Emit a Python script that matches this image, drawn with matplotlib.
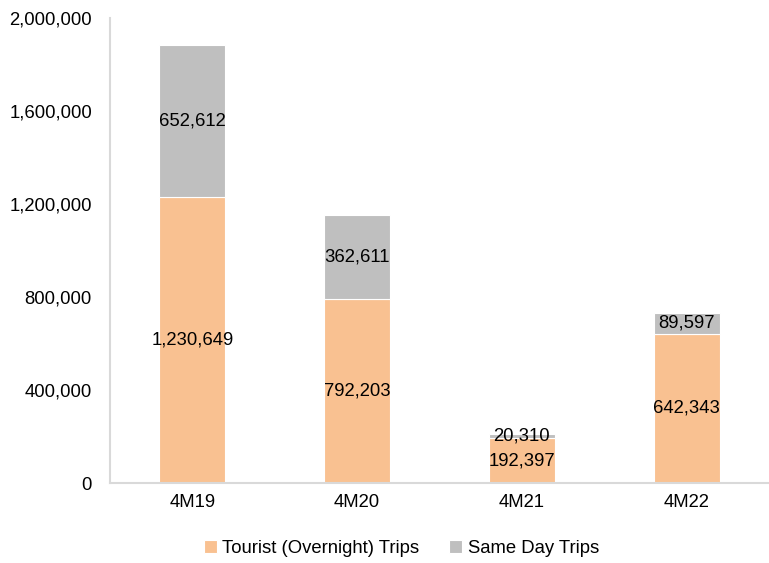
import matplotlib
matplotlib.use("Agg")
import matplotlib.pyplot as plt
from matplotlib.ticker import FuncFormatter

periods = ["4M19", "4M20", "4M21", "4M22"]
overnight = [1230649, 792203, 192397, 642343]
same_day = [652612, 362611, 20310, 89597]

ORANGE = "#f9c191"
GREY = "#bfbfbf"
SPINE = "#d9d9d9"
FS = 13.3

plt.rcParams["font.family"] = ["Liberation Sans", "DejaVu Sans"]

fig = plt.figure(figsize=(7.69, 5.63), dpi=100)
ax = fig.add_axes([0.143, 0.142, 0.857, 0.826])

x = range(len(periods))
b1 = ax.bar(x, overnight, width=0.4, color=ORANGE, edgecolor="white", lw=0.8,
            label="Tourist (Overnight) Trips")
b2 = ax.bar(x, same_day, width=0.4, bottom=overnight, color=GREY, edgecolor="white",
            lw=0.8, label="Same Day Trips")

for i in x:
    ax.text(i, overnight[i] / 2, f"{overnight[i]:,}", ha="center", va="center",
            fontsize=FS, color="black")
    ax.text(i, overnight[i] + same_day[i] / 2, f"{same_day[i]:,}", ha="center",
            va="center", fontsize=FS, color="black")

ax.set_xlim(-0.5, 3.5)
ax.set_ylim(0, 2000000)
ax.set_yticks(range(0, 2000001, 400000))
ax.yaxis.set_major_formatter(FuncFormatter(lambda v, p: f"{int(v):,}"))
ax.set_xticks(list(x))
ax.set_xticklabels(periods)
ax.tick_params(axis="both", length=0, labelsize=FS, colors="black")
ax.tick_params(axis="x", pad=8)
ax.tick_params(axis="y", pad=13)

for s in ("top", "right"):
    ax.spines[s].set_visible(False)
for s in ("left", "bottom"):
    ax.spines[s].set_color(SPINE)
    ax.spines[s].set_linewidth(1.5)

fig.legend(handles=[b1, b2], loc="center", bbox_to_anchor=(0.522, 0.025),
           ncol=2, frameon=False, fontsize=FS, handlelength=0.7, handleheight=0.7,
           handletextpad=0.3, columnspacing=1.6)

fig.savefig("out.png", dpi=100)
